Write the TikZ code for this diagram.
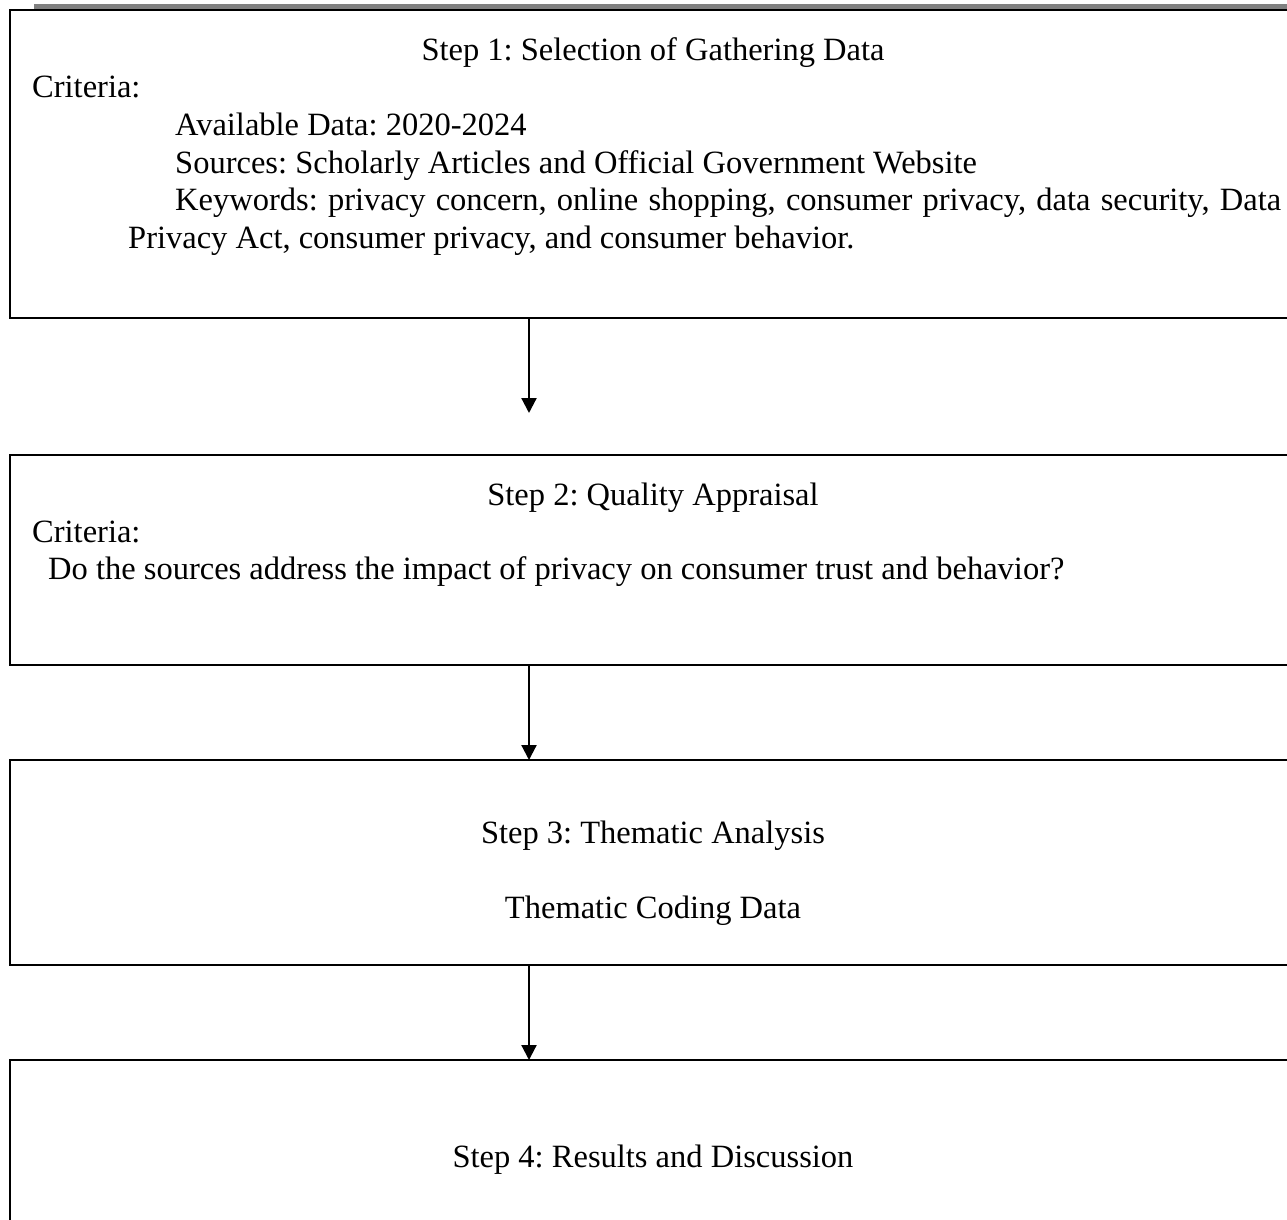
\documentclass[tikz,border=0pt]{standalone}
\usepackage{fontspec}
\setmainfont{Liberation Serif}
\usetikzlibrary{arrows.meta}
\definecolor{rulegray}{RGB}{128,128,128}
\frenchspacing

\begin{document}
\begin{tikzpicture}[x=1pt,y=-1pt,
      stepbox/.style={draw,line width=2.2pt,anchor=north west,
                      minimum width=1286pt,inner sep=0pt,outer sep=0pt},
      txt/.style={inner sep=0pt,font=\fontsize{32.5}{37.5}\selectfont},
      head/.style={txt,anchor=base},
      line/.style={txt,anchor=base west},
      arr/.style={-{Triangle[width=15pt,length=15pt]},line width=2.2pt}]
    \useasboundingbox (0,0) rectangle (1287,1220);
    \clip (0,0) rectangle (1287,1220);
    \fill[rulegray] (34,4) rectangle (1287,9);

    % the four steps
    \node[stepbox,minimum height=308pt] (gather) at (10,10) {};
    \node[stepbox,minimum height=210pt] (appraise) at (10,455) {};
    \node[stepbox,minimum height=205pt] (thematic) at (10,760) {};
    \node[stepbox,minimum height=200pt] (results) at (10,1060) {};

    \node[head] (gatherhead) at (653,60.5) {Step 1: Selection of Gathering Data};
    \node[line] (gathercrit) at (32,98) {Criteria:};
    \node[line] (gatheryears) at (175,135.5) {Available Data: 2020-2024};
    \node[line] (gathersrc) at (175,173) {Sources: Scholarly Articles and Official Government Website};
    \node[line,text width=1153pt,align=justify] (gatherkey) at (128,210.5)
      {\hspace*{47pt}Keywords: privacy concern, online shopping, consumer privacy,
       data security, Data\linebreak Privacy Act, consumer privacy, and consumer behavior.};

    \node[head] (appraisehead) at (653,505) {Step 2: Quality Appraisal};
    \node[line] (appraisecrit) at (32,542) {Criteria:};
    \node[line] (appraiseq) at (48,579.5)
      {Do the sources address the impact of privacy on consumer trust and behavior?};

    \node[head] (thematichead) at (653,843) {Step 3: Thematic Analysis};
    \node[head] (thematiccode) at (653,918) {Thematic Coding Data};

    \node[head] (resultshead) at (653,1167) {Step 4: Results and Discussion};

    % connectors
    \coordinate (tip) at (529,413);
    \draw[arr] (gather.south -| tip) -- (tip);
    \draw[arr] (appraise.south -| tip) -- (thematic.north -| tip);
    \draw[arr] (thematic.south -| tip) -- (results.north -| tip);
  \end{tikzpicture}
\end{document}
